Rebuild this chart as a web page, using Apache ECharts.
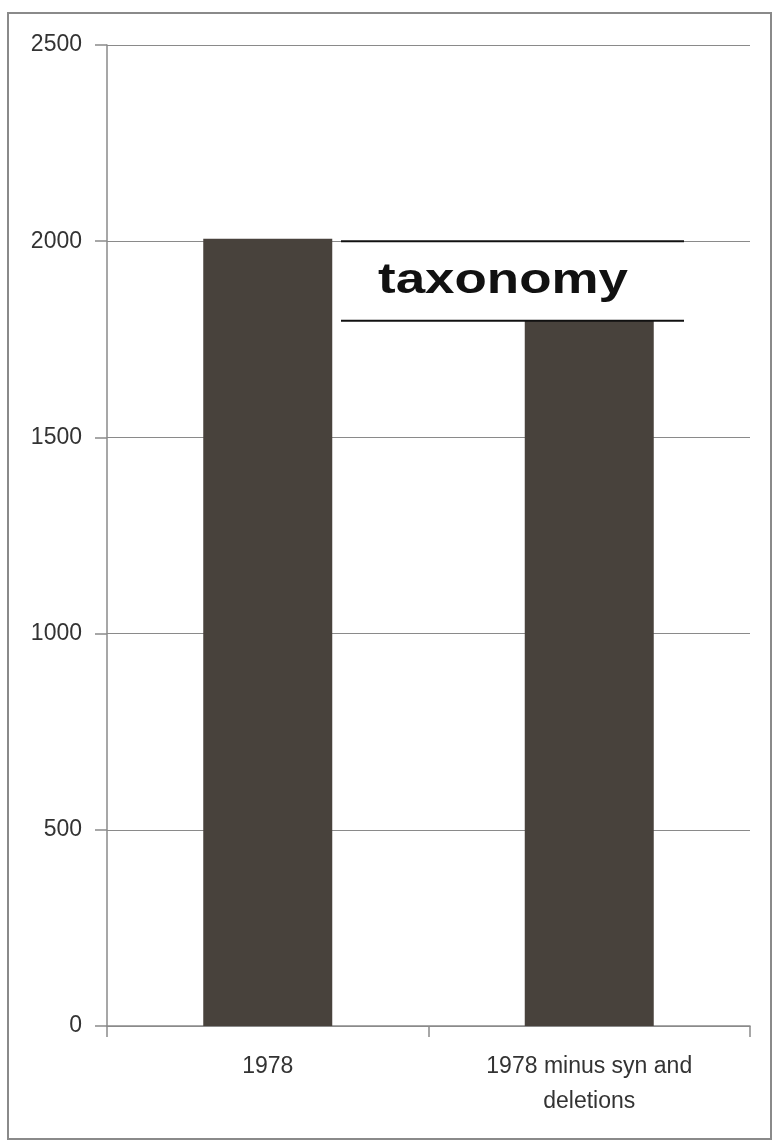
<!DOCTYPE html>
<html>
<head>
<meta charset="utf-8">
<script src="https://cdn.jsdelivr.net/npm/echarts@6/dist/echarts.min.js"></script>
<style>
  html, body { margin: 0; padding: 0; background: #fff; }
  #chart { width: 779px; height: 1146px; }
</style>
</head>
<body>
<div id="chart"></div>
<script>
// Species counts before and after removing synonyms and deletions
const categories = ['1978', '1978 minus syn and\ndeletions'];
const counts = [2006, 1797];
const yTicks = { min: 0, max: 2500, interval: 500 };
const noteText = 'taxonomy';
const noteFrom = 2000; // upper rule of the note sits on this value

const FONT = "'Liberation Sans', Arial, sans-serif";
const chart = echarts.init(document.getElementById('chart'), null, { renderer: 'canvas' });

chart.setOption({
  animation: false,
  backgroundColor: '#ffffff',
  grid: { left: 107, right: 29, top: 45, bottom: 120 },
  xAxis: {
    type: 'category',
    data: categories,
    axisLine: { lineStyle: { color: '#8a8a8a', width: 1.5 } },
    axisTick: { show: true, length: 11, alignWithLabel: false, lineStyle: { color: '#8a8a8a', width: 1.5 } },
    axisLabel: {
      color: '#333333', fontFamily: FONT, fontSize: 23, lineHeight: 35, margin: 23, interval: 0
    }
  },
  yAxis: {
    type: 'value',
    min: yTicks.min, max: yTicks.max, interval: yTicks.interval,
    axisLine: { show: true, lineStyle: { color: '#8a8a8a', width: 1.5 } },
    axisTick: { show: true, length: 12, lineStyle: { color: '#8a8a8a', width: 1.5 } },
    axisLabel: {
      color: '#333333', fontFamily: FONT, fontSize: 23, margin: 25,
      formatter: v => String(v)
    },
    splitLine: { show: true, lineStyle: { color: '#8a8a8a', width: 1.2 } }
  },
  series: [{
    type: 'bar',
    data: counts,
    barWidth: 129,
    itemStyle: { color: '#48423c' }
  }]
});

// Outer frame and the boxed "taxonomy" note between the two bar tops
function drawNote() {
  const yTop = chart.convertToPixel({ yAxisIndex: 0 }, noteFrom);
  const yBot = chart.convertToPixel({ yAxisIndex: 0 }, counts[1]);
  const x0 = 341, x1 = 684;
  chart.setOption({
    graphic: [
      {
        type: 'rect', z: 0, silent: true,
        shape: { x: 8, y: 13, width: 763, height: 1126 },
        style: { fill: 'none', stroke: '#8a8a8a', lineWidth: 2 }
      },
      {
        type: 'rect', z: 100, silent: true,
        shape: { x: x0, y: yTop, width: x1 - x0, height: yBot - yTop },
        style: { fill: '#ffffff' }
      },
      {
        type: 'line', z: 101, silent: true,
        shape: { x1: x0, y1: yTop, x2: x1, y2: yTop },
        style: { stroke: '#111111', lineWidth: 2 }
      },
      {
        type: 'line', z: 101, silent: true,
        shape: { x1: x0, y1: yBot, x2: x1, y2: yBot },
        style: { stroke: '#111111', lineWidth: 2 }
      },
      {
        type: 'text', z: 102, silent: true,
        x: 503, y: (yTop + yBot) / 2,
        scaleX: 1.26,
        style: {
          text: noteText, fill: '#111111',
          font: 'bold 42px ' + FONT,
          align: 'center', verticalAlign: 'middle'
        }
      }
    ]
  });
}
drawNote();
</script>
</body>
</html>
